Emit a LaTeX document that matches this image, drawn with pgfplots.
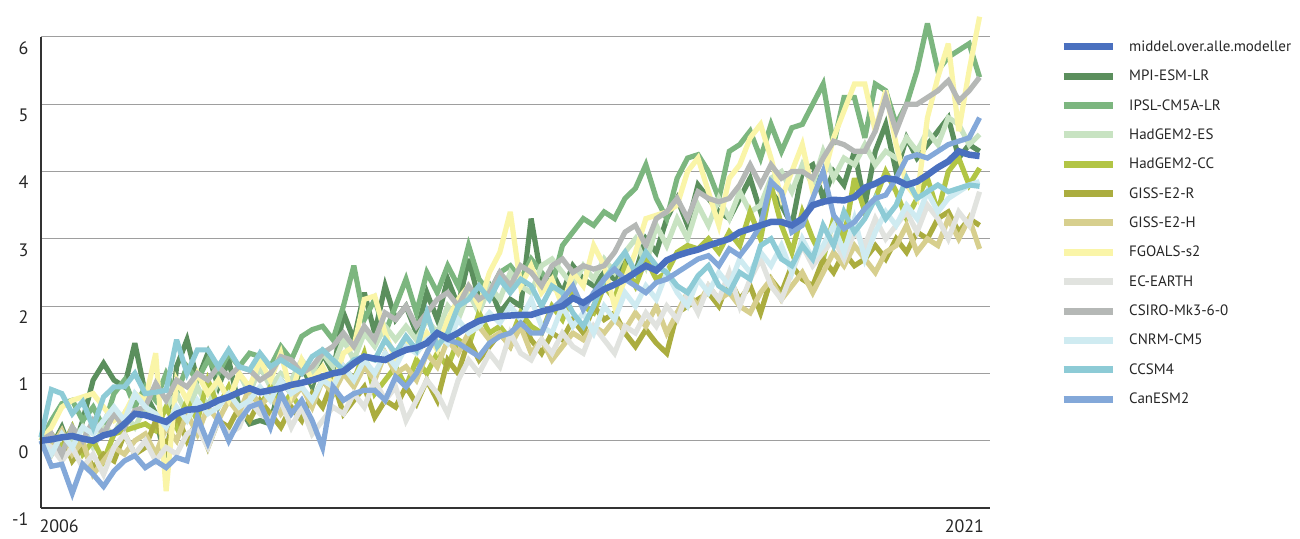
\documentclass[border=0pt]{standalone}
\usepackage{fontspec}
\setmainfont{PT Sans}
\usepackage{pgfplots}
\pgfplotsset{compat=1.18}

\definecolor{cMean}{HTML}{4A70BF}
\definecolor{cMPI}{HTML}{5B8F5D}
\definecolor{cIPSL}{HTML}{7CB67F}
\definecolor{cHadES}{HTML}{C8E3C2}
\definecolor{cHadCC}{HTML}{B2C545}
\definecolor{cGissR}{HTML}{ABAD3F}
\definecolor{cGissH}{HTML}{D7CF8E}
\definecolor{cFgoals}{HTML}{FAF5A8}
\definecolor{cEc}{HTML}{E1E3DF}
\definecolor{cCsiro}{HTML}{B5B8B6}
\definecolor{cCnrm}{HTML}{CFEBF1}
\definecolor{cCcsm}{HTML}{8DCBD6}
\definecolor{cCan}{HTML}{83A8D9}

\begin{document}
\begin{tikzpicture}
\begin{axis}[
  name=ax,
  scale only axis, width=949pt, height=498pt,
  xmin=0, xmax=91, ymin=-1, ymax=6.4,
  axis lines=left,
  axis line style={-, draw=black!80, line width=1.3pt},
  y axis line style={draw=none},
  ytick={-1,0,1,2,3,4,5,6},
  ymajorgrids, grid style={black!38, line width=1.1pt},
  major tick length=0pt,
  xtick={0}, xticklabels={2006},
  extra x ticks={90}, extra x tick labels={2021},
  extra x tick style={grid=none, xticklabel style={anchor=north east, xshift=13pt}},
  xticklabel style={anchor=north west, xshift=-5pt, yshift=-8pt},
  yticklabel style={anchor=east, xshift=-9pt, yshift=-11pt},
  tick label style={font=\fontsize{18}{20}\selectfont, text=black!85},
  /pgf/number format/assume math mode=true,
  clip=false,
  every axis plot/.append style={line width=5.2pt, miter limit=4},
  legend cell align=left,
  legend image code/.code={\draw[line width=7pt] (0pt,0pt) -- (49pt,0pt);},
  legend style={at={(1,1)}, anchor=north west, xshift=70pt, yshift=-22pt,
    draw=none, fill=none, inner sep=0pt, row sep=0pt,
    font=\fontsize{15}{17}\selectfont, text=black!85,
    nodes={inner sep=0pt, minimum height=29.35pt},
    /tikz/every odd column/.append style={column sep=13pt}},
]
\addlegendimage{cMean, line width=6.5pt}
\addlegendentry{middel.over.alle.modeller}

% MPI-ESM-LR
\addplot[cMPI] table[x expr=\coordindex, y index=0, header=false, row sep=\\] {
0\\-0.1\\0.2\\-0.2\\0.3\\0.9\\1.15\\0.9\\0.8\\1.45\\
0.7\\0.4\\-0.4\\1.1\\1.5\\0.9\\1.3\\0.8\\1.2\\0.5\\
0.25\\0.3\\0.25\\0.9\\0.7\\1.1\\0.8\\1.3\\1.0\\1.9\\
1.5\\2.2\\1.6\\2.3\\1.8\\2.0\\1.6\\2.2\\1.8\\2.4\\
2.0\\2.7\\2.1\\2.3\\1.9\\2.1\\2.0\\3.3\\2.4\\2.5\\
2.2\\2.6\\2.4\\2.3\\2.5\\2.4\\2.7\\2.5\\3.0\\2.8\\
3.3\\3.6\\3.2\\3.8\\3.6\\3.4\\3.3\\3.6\\3.9\\3.4\\
3.7\\3.5\\3.2\\4.0\\4.1\\3.6\\4.0\\3.8\\4.3\\3.5\\
4.3\\4.7\\4.0\\4.5\\4.2\\4.4\\4.6\\4.8\\4.2\\4.4\\
4.3\\};
\addlegendentry{MPI-ESM-LR}

% IPSL-CM5A-LR
\addplot[cIPSL] table[x expr=\coordindex, y index=0, header=false, row sep=\\] {
0\\0.3\\0.55\\0.6\\0.3\\0.5\\0.2\\0.7\\0.9\\0.5\\
0.8\\0.6\\1.0\\0.7\\1.1\\0.9\\1.2\\1.0\\1.3\\1.1\\
1.3\\1.25\\1.1\\1.4\\1.2\\1.55\\1.65\\1.7\\1.5\\2.0\\
2.6\\1.8\\2.1\\1.6\\2.0\\2.4\\1.9\\2.5\\2.2\\2.6\\
2.3\\2.9\\2.4\\2.2\\2.5\\2.6\\2.4\\2.7\\2.5\\2.3\\
2.9\\3.1\\3.3\\3.2\\3.4\\3.3\\3.6\\3.75\\4.1\\3.6\\
3.3\\3.9\\4.2\\4.25\\4.0\\3.6\\4.3\\4.4\\4.6\\4.2\\
4.7\\4.3\\4.65\\4.7\\5.0\\5.3\\4.4\\5.1\\5.1\\4.5\\
5.3\\5.2\\4.7\\5.0\\5.5\\6.2\\5.5\\5.7\\5.8\\5.9\\
5.4\\};
\addlegendentry{IPSL-CM5A-LR}

% HadGEM2-ES
\addplot[cHadES] table[x expr=\coordindex, y index=0, header=false, row sep=\\] {
0\\-0.1\\0.1\\0.0\\0.2\\-0.1\\0.2\\0.1\\0.4\\0.2\\
0.5\\0.3\\0.5\\0.7\\0.4\\0.8\\0.5\\0.9\\0.6\\1.0\\
0.7\\1.1\\0.8\\1.0\\0.9\\1.2\\1.0\\1.3\\1.1\\1.5\\
1.2\\1.6\\1.4\\1.7\\1.5\\1.7\\1.5\\1.8\\1.6\\2.0\\
1.8\\2.2\\1.9\\2.3\\2.1\\2.5\\2.3\\2.2\\2.6\\2.7\\
2.5\\2.3\\2.6\\2.4\\2.7\\2.5\\2.8\\3.0\\2.6\\3.2\\
2.9\\3.3\\3.0\\3.5\\3.2\\3.6\\3.3\\3.7\\3.4\\3.5\\
3.9\\4.0\\3.7\\4.1\\3.8\\4.3\\3.9\\4.2\\4.1\\4.4\\
4.1\\4.3\\4.2\\4.5\\4.3\\4.6\\4.4\\4.8\\4.7\\4.4\\
4.55\\};
\addlegendentry{HadGEM2-ES}

% HadGEM2-CC
\addplot[cHadCC] table[x expr=\coordindex, y index=0, header=false, row sep=\\] {
0\\0.1\\-0.1\\0.2\\-0.2\\0.0\\-0.3\\0.1\\0.15\\0.2\\
0.25\\0.15\\0.5\\0.2\\0.6\\0.3\\0.9\\0.5\\0.8\\0.4\\
0.6\\0.5\\0.8\\0.5\\0.7\\0.45\\0.6\\0.9\\0.7\\1.1\\
0.9\\1.3\\0.7\\0.9\\1.1\\0.8\\1.2\\1.0\\1.3\\1.1\\
1.5\\1.4\\1.9\\1.6\\1.7\\1.5\\1.9\\1.7\\1.6\\2.0\\
1.8\\2.2\\2.0\\1.9\\2.3\\2.1\\2.6\\2.3\\2.7\\2.4\\
2.5\\2.8\\2.9\\2.85\\3.0\\2.8\\3.1\\2.9\\3.4\\3.0\\
3.8\\3.2\\2.8\\3.4\\3.0\\2.7\\3.3\\3.0\\3.9\\3.4\\
3.6\\4.0\\3.7\\3.3\\3.6\\3.9\\3.4\\4.0\\4.2\\3.8\\
4.05\\};
\addlegendentry{HadGEM2-CC}

% GISS-E2-R
\addplot[cGissR] table[x expr=\coordindex, y index=0, header=false, row sep=\\] {
0\\-0.2\\0.1\\-0.3\\-0.1\\-0.4\\-0.2\\-0.3\\0.1\\-0.2\\
-0.1\\0.3\\-0.1\\0.4\\0.0\\0.3\\-0.1\\0.3\\0.2\\0.5\\
0.3\\0.6\\0.4\\0.2\\0.5\\0.3\\0.7\\0.5\\0.9\\0.4\\
0.6\\0.8\\0.35\\0.6\\0.5\\0.8\\0.55\\0.9\\0.6\\1.2\\
1.0\\1.5\\1.2\\1.4\\1.6\\1.4\\1.8\\1.5\\1.3\\1.6\\
1.5\\1.8\\1.6\\2.0\\1.8\\1.9\\1.6\\1.4\\1.65\\1.45\\
1.3\\1.9\\2.0\\2.1\\2.2\\2.0\\2.4\\2.1\\2.3\\1.9\\
2.4\\2.2\\2.6\\2.4\\2.3\\2.7\\2.5\\2.8\\2.6\\2.7\\
2.9\\2.7\\3.0\\2.8\\3.1\\3.0\\3.3\\3.4\\3.1\\3.3\\
3.2\\};
\addlegendentry{GISS-E2-R}

% GISS-E2-H
\addplot[cGissH] table[x expr=\coordindex, y index=0, header=false, row sep=\\] {
0\\-0.1\\0.15\\-0.2\\0.0\\-0.5\\-0.3\\-0.1\\-0.2\\0.0\\
0.1\\-0.2\\0.2\\0.0\\0.4\\0.1\\0.5\\0.3\\0.6\\0.4\\
0.8\\0.5\\0.7\\0.4\\0.6\\0.8\\0.5\\0.9\\0.7\\1.0\\
0.8\\1.1\\0.9\\1.3\\1.0\\1.1\\0.9\\1.3\\1.1\\1.5\\
1.3\\1.6\\1.7\\1.5\\1.6\\1.4\\1.7\\1.3\\1.5\\1.2\\
1.4\\1.6\\1.5\\1.7\\1.6\\1.8\\1.65\\1.9\\1.7\\2.0\\
1.6\\1.9\\2.2\\2.0\\2.3\\2.1\\2.2\\2.0\\1.9\\2.2\\
2.4\\2.1\\2.3\\2.5\\2.2\\2.5\\2.8\\2.6\\2.9\\2.7\\
2.5\\2.8\\2.9\\3.2\\2.8\\3.0\\2.9\\3.3\\3.0\\3.3\\
2.85\\};
\addlegendentry{GISS-E2-H}

% FGOALS-s2
\addplot[cFgoals] table[x expr=\coordindex, y index=0, header=false, row sep=\\] {
0\\0.2\\0.5\\0.6\\0.65\\0.7\\0.5\\0.3\\0.4\\0.7\\
0.6\\1.3\\-0.75\\0.9\\0.6\\1.0\\0.7\\0.9\\0.6\\1.0\\
0.8\\1.2\\0.9\\1.3\\0.7\\1.2\\0.9\\1.1\\0.8\\1.3\\
1.4\\2.1\\2.15\\1.6\\1.2\\1.5\\1.3\\1.6\\1.35\\1.8\\
2.1\\2.3\\2.0\\2.5\\2.8\\3.4\\2.3\\2.6\\2.2\\2.4\\
2.0\\2.5\\2.3\\2.9\\2.6\\2.0\\2.4\\2.8\\3.3\\3.35\\
3.4\\3.5\\4.0\\4.2\\3.7\\3.2\\3.9\\4.1\\4.5\\4.7\\
4.2\\3.6\\4.0\\4.4\\3.7\\3.9\\4.5\\4.9\\5.3\\5.3\\
4.6\\5.2\\4.4\\3.8\\3.6\\4.8\\5.4\\5.9\\4.6\\5.5\\
6.3\\};
\addlegendentry{FGOALS-s2}

% EC-EARTH
\addplot[cEc] table[x expr=\coordindex, y index=0, header=false, row sep=\\] {
0\\-0.1\\-0.3\\-0.1\\-0.4\\-0.2\\-0.5\\-0.1\\0.1\\-0.2\\
0.0\\-0.3\\-0.1\\-0.2\\0.1\\0.2\\-0.1\\0.3\\0.1\\0.2\\
0.6\\0.4\\0.3\\0.6\\0.2\\0.5\\0.1\\0.3\\0.5\\0.4\\
0.7\\0.5\\0.9\\0.6\\0.8\\0.3\\0.6\\0.9\\0.7\\0.4\\
0.9\\1.2\\1.0\\1.3\\1.1\\1.6\\1.3\\1.2\\1.5\\1.3\\
1.6\\1.4\\1.3\\1.7\\1.5\\1.3\\1.7\\1.6\\1.9\\1.7\\
2.0\\1.8\\2.2\\1.9\\2.3\\2.1\\2.5\\2.0\\2.4\\2.7\\
2.3\\2.1\\2.5\\2.9\\2.6\\2.8\\3.0\\2.7\\3.1\\2.9\\
3.3\\3.0\\3.2\\3.4\\3.1\\3.5\\3.3\\3.0\\3.4\\3.2\\
3.7\\};
\addlegendentry{EC-EARTH}

% CSIRO-Mk3-6-0
\addplot[cCsiro] table[x expr=\coordindex, y index=0, header=false, row sep=\\] {
0\\0.1\\-0.2\\0.2\\0.0\\0.3\\0.1\\0.4\\0.2\\0.45\\
0.5\\0.85\\0.6\\0.9\\0.8\\1.0\\0.9\\1.1\\0.95\\1.1\\
1.05\\0.9\\1.0\\1.25\\1.2\\1.0\\1.1\\1.3\\1.4\\1.6\\
1.4\\1.7\\1.5\\1.9\\1.8\\2.0\\1.7\\1.9\\2.1\\2.2\\
2.0\\2.3\\2.1\\2.2\\2.5\\2.3\\2.6\\2.5\\2.3\\2.6\\
2.7\\2.5\\2.6\\2.55\\2.6\\2.8\\3.1\\3.2\\2.9\\3.3\\
3.4\\3.6\\3.3\\3.7\\3.6\\3.55\\3.6\\3.8\\4.1\\3.8\\
4.1\\3.9\\4.0\\4.0\\3.9\\4.2\\4.45\\4.4\\4.3\\4.3\\
4.6\\5.1\\4.6\\5.0\\5.0\\5.1\\5.2\\5.35\\5.05\\5.2\\
5.4\\};
\addlegendentry{CSIRO-Mk3-6-0}

% CNRM-CM5
\addplot[cCnrm] table[x expr=\coordindex, y index=0, header=false, row sep=\\] {
0\\-0.2\\0.1\\-0.1\\0.2\\0.1\\0.3\\0.5\\0.3\\0.7\\
0.5\\0.4\\0.2\\0.5\\0.3\\0.6\\0.4\\0.5\\0.7\\0.5\\
0.6\\0.8\\0.6\\0.9\\0.7\\0.8\\0.6\\0.9\\0.8\\1.1\\
0.9\\1.2\\1.0\\1.3\\1.1\\1.4\\1.3\\1.5\\1.6\\1.45\\
1.8\\1.6\\1.7\\1.9\\1.75\\2.0\\1.8\\2.1\\1.7\\1.6\\
2.0\\1.7\\1.9\\1.6\\2.0\\1.8\\2.2\\2.0\\2.3\\2.1\\
2.5\\2.2\\2.0\\2.4\\2.2\\2.5\\2.3\\2.7\\2.5\\2.8\\
2.6\\2.9\\2.5\\3.0\\2.7\\2.9\\3.2\\2.8\\3.3\\2.7\\
3.1\\3.4\\3.2\\3.5\\3.3\\3.7\\3.4\\3.6\\3.7\\3.8\\
3.85\\};
\addlegendentry{CNRM-CM5}

% CCSM4
\addplot[cCcsm] table[x expr=\coordindex, y index=0, header=false, row sep=\\] {
0.05\\0.76\\0.7\\0.4\\0.58\\0.2\\0.65\\0.8\\0.8\\1.0\\
0.7\\0.72\\0.75\\1.5\\1.0\\1.35\\1.35\\1.1\\1.35\\1.1\\
1.05\\1.3\\1.1\\1.2\\1.1\\1.0\\1.25\\1.35\\1.2\\1.05\\
1.2\\1.25\\1.2\\1.5\\1.3\\1.55\\1.35\\1.9\\1.4\\1.6\\
2.0\\2.1\\2.3\\2.1\\2.4\\2.2\\2.4\\2.3\\2.0\\2.3\\
2.2\\1.9\\1.7\\2.0\\2.4\\2.6\\2.8\\2.5\\2.8\\2.6\\
2.5\\2.3\\2.2\\2.45\\2.6\\2.3\\2.2\\2.5\\2.4\\2.9\\
3.0\\2.7\\2.6\\2.9\\2.7\\3.2\\2.9\\3.4\\3.1\\3.3\\
3.6\\3.3\\3.5\\3.9\\3.6\\3.7\\3.8\\3.7\\3.75\\3.8\\
3.78\\};
\addlegendentry{CCSM4}

% CanESM2
\addplot[cCan] table[x expr=\coordindex, y index=0, header=false, row sep=\\] {
0\\-0.38\\-0.35\\-0.78\\-0.35\\-0.5\\-0.68\\-0.45\\-0.3\\-0.22\\
-0.4\\-0.3\\-0.4\\-0.25\\-0.3\\0.35\\-0.03\\0.36\\0.0\\0.3\\
0.5\\0.56\\0.2\\0.7\\0.4\\0.6\\0.3\\-0.1\\0.8\\0.6\\
0.7\\0.75\\0.75\\0.6\\0.95\\0.8\\1.0\\1.3\\1.6\\1.5\\
1.45\\1.35\\1.25\\1.45\\1.55\\1.6\\1.75\\1.6\\1.6\\1.95\\
2.1\\2.3\\1.95\\2.2\\2.4\\2.55\\2.4\\2.3\\2.2\\2.35\\
2.4\\2.5\\2.6\\2.7\\2.75\\2.6\\2.85\\2.75\\2.95\\3.2\\
3.85\\3.7\\3.1\\3.2\\3.6\\4.0\\3.35\\3.15\\3.25\\3.45\\
3.6\\3.65\\3.9\\4.2\\4.25\\4.2\\4.3\\4.4\\4.45\\4.5\\
4.8\\};
\addlegendentry{CanESM2}

% middel over alle modeller (drawn last, on top)
\addplot[cMean, line width=6.5pt, forget plot] table[x expr=\coordindex, y index=0, header=false, row sep=\\] {
0.00\\0.02\\0.05\\0.07\\0.03\\0.00\\0.08\\0.12\\0.25\\0.40\\
0.38\\0.33\\0.28\\0.40\\0.46\\0.47\\0.52\\0.60\\0.65\\0.72\\
0.78\\0.72\\0.75\\0.78\\0.83\\0.86\\0.90\\0.95\\1.00\\1.03\\
1.15\\1.25\\1.22\\1.20\\1.28\\1.35\\1.38\\1.45\\1.60\\1.52\\
1.60\\1.70\\1.78\\1.82\\1.85\\1.86\\1.87\\1.87\\1.92\\1.96\\
2.00\\2.12\\2.05\\2.15\\2.25\\2.32\\2.40\\2.50\\2.60\\2.53\\
2.68\\2.75\\2.80\\2.84\\2.90\\2.95\\3.00\\3.10\\3.15\\3.20\\
3.25\\3.25\\3.20\\3.30\\3.50\\3.55\\3.58\\3.57\\3.62\\3.76\\
3.82\\3.90\\3.88\\3.80\\3.85\\3.95\\4.06\\4.15\\4.30\\4.25\\
4.23\\};

\draw[black!80, line width=1.3pt] (axis cs:0,-1) -- (axis cs:0,6);
\end{axis}
\pgfresetboundingbox
\path ([shift={(-41pt,-31pt)}]ax.south west) rectangle ([shift={(310pt,10pt)}]ax.north east);
\end{tikzpicture}
\end{document}
